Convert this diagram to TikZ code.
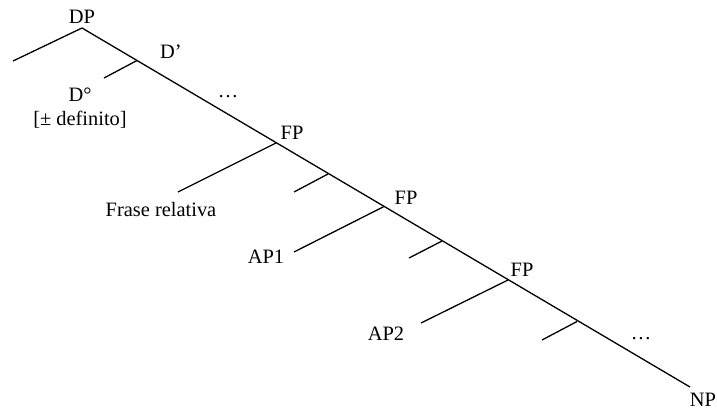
\documentclass[tikz,border=0pt]{standalone}
\usepackage{fontspec}
\setmainfont{Liberation Serif}
\begin{document}
\begin{tikzpicture}[x=1bp,y=-1bp,
  branch/.style={line width=1.3bp, line cap=butt},
  lbl/.style={inner sep=0pt, font=\fontsize{20.5}{24}\selectfont}]
\useasboundingbox (0,0) rectangle (717,412);
% branch points
\coordinate (dp) at (82,28);
\coordinate (spec) at (13,61);
\coordinate (dbar) at (137,60.5);
\coordinate (dhead) at (104,78);
\coordinate (fp1) at (276,143);
\coordinate (rel) at (178,192);
\coordinate (f1bar) at (328,174);
\coordinate (f1head) at (294,192);
\coordinate (fp2) at (384,206.5);
\coordinate (ap1) at (294,252);
\coordinate (f2bar) at (442,241);
\coordinate (f2head) at (409,258);
\coordinate (fp3) at (508,280);
\coordinate (ap2) at (421,323);
\coordinate (f3bar) at (577,321.5);
\coordinate (f3head) at (542,340);
\coordinate (np) at (690,387);
% lines
\draw[branch] (spec) -- (dp) -- (np);
\draw[branch] (dbar) -- (dhead);
\draw[branch] (fp1) -- (rel);
\draw[branch] (f1bar) -- (f1head);
\draw[branch] (fp2) -- (ap1);
\draw[branch] (f2bar) -- (f2head);
\draw[branch] (fp3) -- (ap2);
\draw[branch] (f3bar) -- (f3head);
% labels
\node[lbl] (tdp) at (82,17) {DP};
\node[lbl] (tdbar) at (171,52) {D’};
\node[lbl] (tdhead) at (80,95) {D°};
\node[lbl] (tdef) at (80,120) {[± definito]};
\node[lbl] (dots1) at (228,97) {…};
\node[lbl] (tfp1) at (292,133) {FP};
\node[lbl] (trel) at (161,210) {Frase relativa};
\node[lbl] (tfp2) at (406,198) {FP};
\node[lbl] (tap1) at (266,257) {AP1};
\node[lbl] (tfp3) at (522,270) {FP};
\node[lbl] (tap2) at (386,334) {AP2};
\node[lbl] (dots2) at (641,339) {…};
\node[lbl] (tnp) at (703,400) {NP};
\end{tikzpicture}
\end{document}
